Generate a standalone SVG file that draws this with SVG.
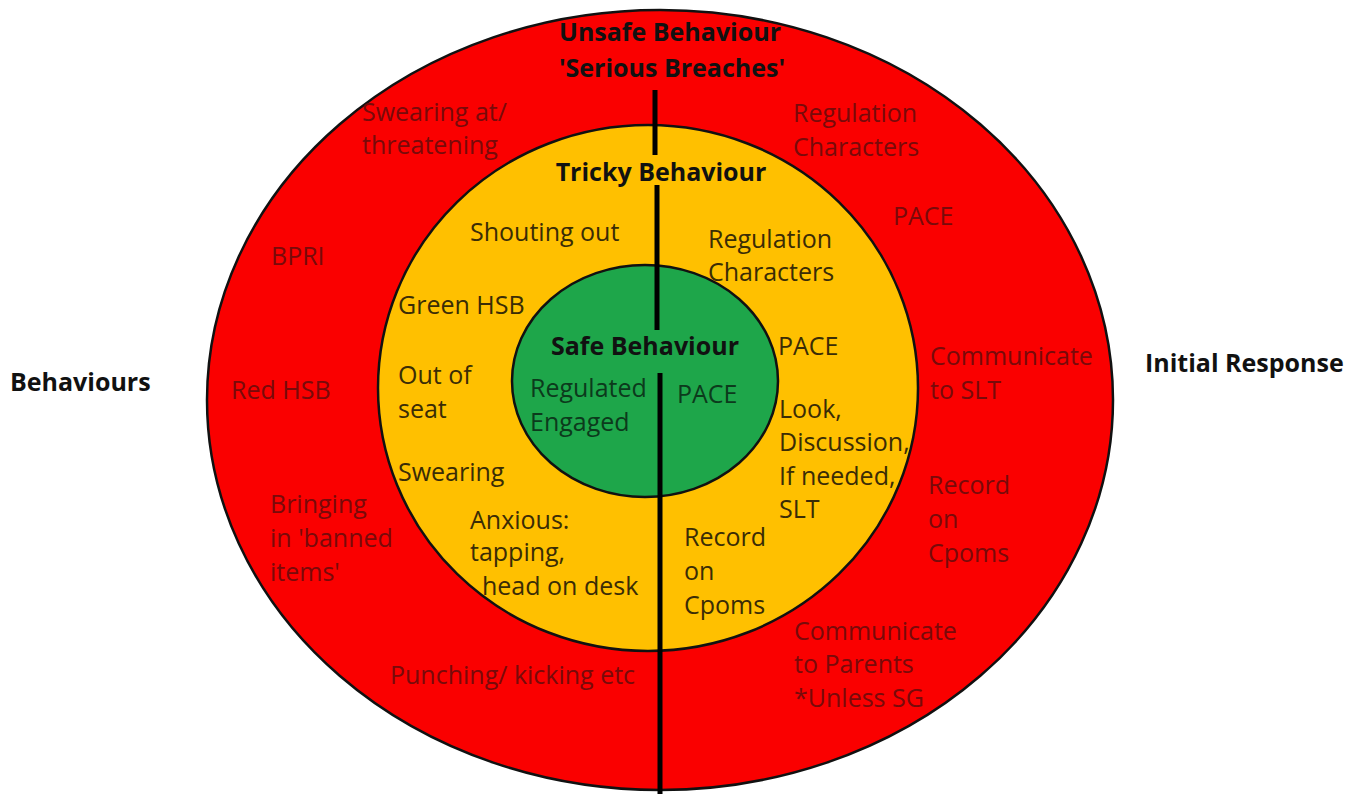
<svg xmlns="http://www.w3.org/2000/svg" width="1367" height="794" viewBox="0 0 1367 794">
<style>
text{font-family:"Open Sans","Noto Sans",sans-serif;font-size:25px}
.h{font-weight:bold;fill:#111}
.r{fill:#780a0a}
.y{fill:#3a2c06}
.g{fill:#0c3a1c}
.ring{stroke:#111;stroke-width:2.5}
.div{stroke:#000;stroke-width:5}
</style>
<rect width="1367" height="794" fill="#fff"/>
<g id="outer-ring">
<ellipse class="ring" cx="660" cy="400" rx="453" ry="390" fill="#fa0000"/>
</g>
<g id="middle-ring">
<ellipse class="ring" cx="648" cy="388" rx="270" ry="263" fill="#ffc000"/>
</g>
<g id="inner-circle">
<ellipse class="ring" cx="645" cy="381" rx="133" ry="116" fill="#1ea64a"/>
</g>
<g id="connectors">
<line class="div" x1="655" y1="90" x2="655" y2="155"/>
<line class="div" x1="657" y1="185" x2="657" y2="330"/>
<line class="div" x1="660" y1="373" x2="660" y2="794"/>
</g>
<g id="side-labels">
<text class="h" x="10" y="391">Behaviours</text>
<text class="h" x="1145" y="372">Initial Response</text>
</g>
<g id="unsafe">
<text class="h" x="670" y="41" text-anchor="middle">Unsafe Behaviour</text>
<text class="h" x="672" y="77" text-anchor="middle">'Serious Breaches'</text>
<text class="r" x="362" y="121">Swearing at/</text>
<text class="r" x="362" y="154">threatening</text>
<text class="r" x="271" y="265">BPRI</text>
<text class="r" x="231" y="399">Red HSB</text>
<text class="r" x="270" y="513">Bringing</text>
<text class="r" x="270" y="547">in 'banned</text>
<text class="r" x="270" y="581">items'</text>
<text class="r" x="390" y="684">Punching/ kicking etc</text>
<text class="r" x="793" y="122">Regulation</text>
<text class="r" x="793" y="156">Characters</text>
<text class="r" x="893" y="225">PACE</text>
<text class="r" x="930" y="365">Communicate</text>
<text class="r" x="930" y="399">to SLT</text>
<text class="r" x="928" y="494">Record</text>
<text class="r" x="928" y="528">on</text>
<text class="r" x="928" y="562">Cpoms</text>
<text class="r" x="794" y="640">Communicate</text>
<text class="r" x="794" y="673">to Parents</text>
<text class="r" x="794" y="707">*Unless SG</text>
</g>
<g id="tricky">
<text class="h" x="661" y="181" text-anchor="middle">Tricky Behaviour</text>
<text class="y" x="470" y="241">Shouting out</text>
<text class="y" x="398" y="314">Green HSB</text>
<text class="y" x="398" y="384">Out of</text>
<text class="y" x="398" y="418">seat</text>
<text class="y" x="398" y="481">Swearing</text>
<text class="y" x="470" y="529">Anxious:</text>
<text class="y" x="470" y="561">tapping,</text>
<text class="y" x="482" y="595">head on desk</text>
<text class="y" x="708" y="248">Regulation</text>
<text class="y" x="708" y="281">Characters</text>
<text class="y" x="778" y="355">PACE</text>
<text class="y" x="779" y="418">Look,</text>
<text class="y" x="779" y="451">Discussion,</text>
<text class="y" x="779" y="485">If needed,</text>
<text class="y" x="779" y="518">SLT</text>
<text class="y" x="684" y="546">Record</text>
<text class="y" x="684" y="580">on</text>
<text class="y" x="684" y="614">Cpoms</text>
</g>
<g id="safe">
<text class="h" x="645" y="355" text-anchor="middle">Safe Behaviour</text>
<text class="g" x="530" y="397">Regulated</text>
<text class="g" x="530" y="431">Engaged</text>
<text class="g" x="677" y="403">PACE</text>
</g>
</svg>
